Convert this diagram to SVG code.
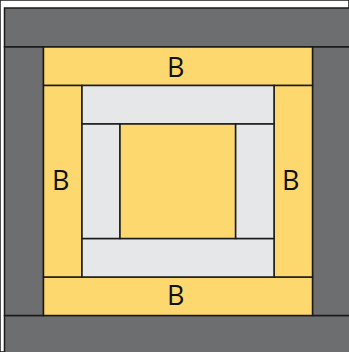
<svg xmlns="http://www.w3.org/2000/svg" width="349" height="352" viewBox="0 0 349 352">
<style>
rect{stroke:#1a1a1a;stroke-width:1.5}
.d{fill:#6d6e70}
.y{fill:#fdd86e}
.l{fill:#e6e7e8}
text{font-family:"Open Sans","Noto Sans",sans-serif;font-size:27px;fill:#111;text-anchor:middle}
</style>
<rect x="0" y="0" width="349" height="352" fill="#fff" stroke="none"/>
<g id="outer">
<rect class="d" x="4.5" y="8" width="350" height="39"/>
<rect class="d" x="4.5" y="315.5" width="350" height="40"/>
<rect class="d" x="4.5" y="47" width="39" height="268.5"/>
<rect class="d" x="312.5" y="47" width="42" height="268.5"/>
</g>
<g id="b-top"><rect class="y" x="43.5" y="47" width="269" height="38.5"/><text x="175.7" y="77.3">B</text></g>
<g id="b-bottom"><rect class="y" x="43.5" y="277" width="269" height="38.5"/><text x="175.7" y="305.3">B</text></g>
<g id="b-left"><rect class="y" x="43.5" y="85.5" width="38.5" height="191.5"/><text x="60.8" y="190.3">B</text></g>
<g id="b-right"><rect class="y" x="274" y="85.5" width="38.5" height="191.5"/><text x="290.8" y="190.3">B</text></g>
<g id="inner">
<rect class="l" x="82" y="85.5" width="192" height="38.5"/>
<rect class="l" x="82" y="238.5" width="192" height="38.5"/>
<rect class="l" x="82" y="124" width="38" height="114.5"/>
<rect class="l" x="235.5" y="124" width="38.5" height="114.5"/>
</g>
<g id="center"><rect class="y" x="120" y="124" width="115.5" height="114.5"/></g>
</svg>
